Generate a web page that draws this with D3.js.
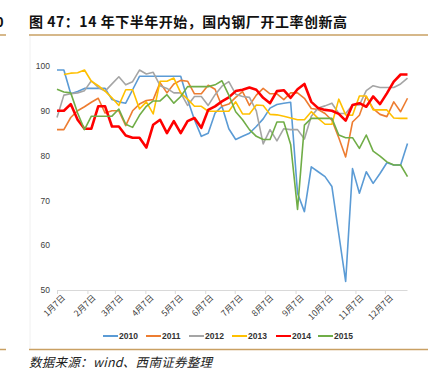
<!DOCTYPE html>
<html><head><meta charset="utf-8">
<script src="https://cdn.jsdelivr.net/npm/d3@7"></script>
<style>
html,body{margin:0;padding:0;background:#fff;}
svg{display:block;font-family:"Liberation Sans",Arial,sans-serif;}
</style></head>
<body><svg id="c" width="437" height="376"></svg>
<script>
const titleText = "图 47：14 年下半年开始，国内钢厂开工率创新高";
const sourceText = "数据来源：wind、西南证券整理";
const years = ["2010","2011","2012","2013","2014","2015"];
const colors = ["#5b9bd5","#ed7d31","#a5a5a5","#ffc000","#ff0000","#70ad47"];
const yTicks = [50,60,70,80,90,100];
const monthTicks = ["1月7日","2月7日","3月7日","4月7日","5月7日","6月7日","7月7日","8月7日","9月7日","10月7日","11月7日","12月7日"];

const s2010 = [99.1,99.1,93.8,94.3,95,95,95,95,92.5,92,91.7,94.7,97.7,97.7,97.7,97.7,97.7,97.7,97.7,92.5,88,84.3,85,89.5,91,86,83.6,84.3,85,86.5,88.2,90.6,91.4,91.7,91.9,71.6,67.5,77.5,76.4,75.3,73.1,62.5,51.9,77.1,71.6,76.4,73.8,76,78.4,77.9,77.9,82.7];
const s2011 = [85.8,85.8,88.5,90,90.9,91.9,92.8,89.5,90,90,86.7,90,91.5,92.3,92.5,96.3,94,96,96.8,96.6,93.8,93.8,95.7,94.8,91,91.5,93,94.3,91.2,93.5,95,93.8,93.8,92.5,94,94,92.8,90.5,90.3,89.4,87.9,84,79.7,87.5,89,93.2,90.5,89.2,88.7,92,89.8,92.8];
const s2012 = [88.5,93.5,93.8,94,94.5,96.7,95.2,94.4,96,97.6,95.8,96.5,99.1,98.2,98.6,95.6,95,94,94,91.2,93.2,93.2,91.2,93.6,95.5,96.5,93.7,93.2,93,90,82.6,85.8,83.3,86,85.8,85.8,83.7,88.8,90.6,91.1,91.7,89.4,89.4,91.3,91.3,94.5,95.6,95.2,95.2,95.2,96,97.3];
const s2013 = [null,98.1,98.4,98.5,99.1,96.6,95.6,94.4,92.9,91.2,94.7,94.7,90.4,92,89.3,96.6,96.6,97.3,94,92.6,91,91,89.9,89.9,89.9,89.9,92,89.3,89.3,91.3,91.2,89.2,89.1,88.8,88.4,88,88,89.8,88.3,87,87,92.6,89.1,89,93.3,93.3,90.2,90.2,90.2,88.4,88.3,88.3];
const s2014 = [90,90,91.5,88,86,86,91,91,86.5,86.5,84.5,84,84,81.8,86.9,88,85,87.7,85,87.7,88.4,86.2,90.2,91,92.1,93,94.4,94.7,95.2,94.7,92.9,91.7,94.4,94.6,92.9,94.8,96,92,90.6,90.2,90,89.3,87.8,91.3,91.7,90.9,93.2,91.5,93.9,96.5,98.1,98.1];
const s2015 = [94.8,94.2,94,89.5,85.8,88.8,88.8,88.8,88.8,90.4,87,86.3,89,91,92.2,92.2,93.6,91.7,93.2,95.4,95.4,95.4,95.4,95.8,96.7,93.5,89.8,88,85.8,84.3,83.6,83.6,87.5,87.5,82.5,68,86.8,88.3,88.3,88.3,88.3,84.6,84,84,81.6,84.6,81,79.9,78.6,77.9,77.9,75.3];
const seriesValues = [s2010,s2011,s2012,s2013,s2014,s2015];

// weekly observation dates (category positions), Jan 7 + 7 days each
const weekDates = d3.range(52).map(i => new Date(2015, 0, 7 + 7 * i));
const monthDates = d3.range(12).map(m => new Date(2015, m, 7));

const svg = d3.select("#c");
const tan = "#c9a063";

// cut-off remnants at the left edge
svg.append("text").attr("x",3.5).attr("y",27).attr("text-anchor","end")
  .attr("font-size",14).attr("font-weight","bold").attr("fill","#111").text("0");
svg.append("line").attr("x1",0).attr("x2",6).attr("y1",35).attr("y2",35).attr("stroke",tan).attr("stroke-width",1.5);
svg.append("line").attr("x1",0).attr("x2",6).attr("y1",349.5).attr("y2",349.5).attr("stroke",tan).attr("stroke-width",1.5);

// title
svg.append("text").attr("x",29).attr("y",27)
  .attr("font-family","'Noto Sans CJK SC','Liberation Sans',sans-serif")
  .attr("font-size",14).attr("font-weight","bold").attr("fill","#111")
  .attr("textLength",318).attr("lengthAdjust","spacing").text(titleText);
svg.append("line").attr("x1",29).attr("x2",428).attr("y1",35).attr("y2",35).attr("stroke",tan).attr("stroke-width",1.5);
svg.append("line").attr("x1",30).attr("x2",30).attr("y1",36).attr("y2",348.5).attr("stroke","#f0f0f0").attr("stroke-width",1);
svg.append("line").attr("x1",29).attr("x2",428).attr("y1",349.5).attr("y2",349.5).attr("stroke",tan).attr("stroke-width",1.5);

// scales
const x = d3.scaleTime().domain([weekDates[0], weekDates[51]]).range([57, 407.5]);
const y = d3.scaleLinear().domain([50, 100]).range([290, 66]);

// y labels
const yAxis = svg.append("g").attr("transform","translate(57,0)")
  .call(d3.axisLeft(y).tickValues(yTicks).tickSize(0).tickPadding(7));
yAxis.select(".domain").remove();
yAxis.selectAll("text").attr("font-size",8.5).attr("fill","#404040")
  .attr("font-family","'Liberation Sans',Arial,sans-serif");

// x axis
const xAxis = svg.append("g").attr("transform","translate(0,290)")
  .call(d3.axisBottom(x).tickValues(monthDates).tickSize(4)
    .tickFormat((d,i) => monthTicks[i]));
xAxis.select(".domain").attr("stroke","#d9d9d9").attr("d","M57,0.5H407.5");
xAxis.selectAll(".tick line").attr("stroke","#d9d9d9");
xAxis.selectAll(".tick text")
  .attr("font-family","'Noto Sans CJK SC','Liberation Sans',sans-serif")
  .attr("font-size",8.5).attr("fill","#404040")
  .attr("text-anchor","end").attr("dy","0.35em")
  .attr("transform","translate(2,2) rotate(-45)").attr("y",6).attr("x",0);

// lines
const line = d3.line().defined(d => d.v != null)
  .x(d => x(d.date)).y(d => y(d.v));
years.forEach((yr, k) => {
  const pts = seriesValues[k].map((v,i) => ({date: weekDates[i], v}));
  svg.append("path").datum(pts).attr("d", line)
    .attr("fill","none").attr("stroke",colors[k])
    .attr("stroke-width", yr === "2014" ? 2.6 : 1.6)
    .attr("stroke-linejoin","round");
});

// legend
const legendX = [103, 146, 189, 232, 276, 318];
years.forEach((yr,k) => {
  const g = svg.append("g").attr("transform",`translate(${legendX[k]},336)`);
  g.append("line").attr("x1",0).attr("x2",15).attr("y1",0).attr("y2",0)
    .attr("stroke",colors[k]).attr("stroke-width",2);
  g.append("text").attr("x",16).attr("y",3.2).attr("font-size",8.5)
    .attr("font-weight","bold").attr("fill","#333").text(yr);
});

// source
svg.append("text").attr("x",29).attr("y",367)
  .attr("font-family","'Noto Sans CJK SC','Liberation Sans',sans-serif")
  .attr("font-size",12.5).attr("font-style","italic").attr("fill","#222")
  .attr("textLength",183).attr("lengthAdjust","spacing").text(sourceText);
</script></body></html>
